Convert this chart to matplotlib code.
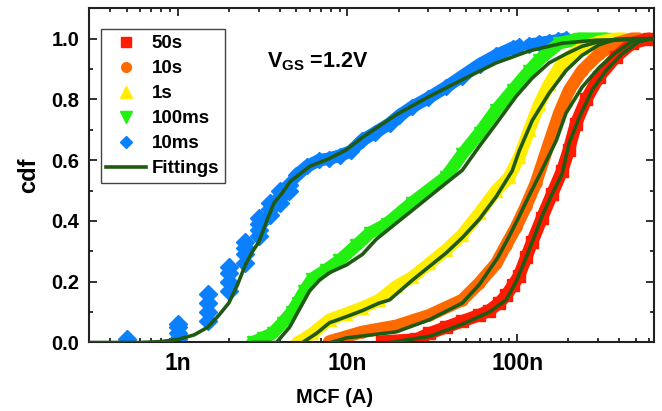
import matplotlib
matplotlib.use("Agg")
import matplotlib.pyplot as plt
from matplotlib.lines import Line2D
from matplotlib.ticker import FixedLocator, LogLocator, MultipleLocator, NullFormatter

plt.rcParams["font.family"] = ["Liberation Sans", "DejaVu Sans"]
plt.rcParams["font.weight"] = "bold"
plt.rcParams["mathtext.fontset"] = "custom"
plt.rcParams["mathtext.rm"] = "Liberation Sans:bold"
plt.rcParams["mathtext.it"] = "Liberation Sans:bold"
plt.rcParams["mathtext.bf"] = "Liberation Sans:bold"

# MCF values in nA, cdf
LABELS = ["50s", "10s", "1s", "100ms", "10ms"]

red_x = [16, 25.5, 30.4, 38, 47.5, 59.7, 68.4, 78.4, 86.1, 95, 102.7, 113, 122.5,
         140, 161, 184, 202, 222, 255, 304, 382, 475, 597]
red_y = [0.003, 0.01, 0.03, 0.05, 0.07, 0.09, 0.105, 0.13, 0.155, 0.19, 0.22, 0.28, 0.33,
         0.41, 0.49, 0.565, 0.635, 0.72, 0.8, 0.875, 0.94, 0.985, 1.0]

orange_x = [7.8, 8.6, 12.25, 19.4, 30.4, 47.5, 59.7, 75.2, 86, 98.6, 113, 129, 154,
            177, 202, 241, 304, 382, 475, 522]
orange_y = [0.003, 0.01, 0.035, 0.055, 0.09, 0.14, 0.195, 0.26, 0.32, 0.38, 0.45, 0.525, 0.655,
            0.755, 0.83, 0.895, 0.95, 0.985, 1.0, 1.0]

yellow_x = [5.08, 5.5, 6.22, 7.84, 9.86, 12.25, 15.4, 19.4, 24.1, 30.4, 38.2, 47.5, 59.7,
            75.2, 89.8, 102.7, 118, 135, 154, 177, 202, 241, 304, 382, 426]
yellow_y = [0.0, 0.01, 0.03, 0.075, 0.095, 0.115, 0.14, 0.185, 0.215, 0.26, 0.305, 0.355, 0.425,
            0.5, 0.545, 0.61, 0.7, 0.785, 0.85, 0.905, 0.94, 0.97, 0.99, 1.0, 1.0]

green_x = [2.76, 3.16, 3.62, 4.15, 4.69, 5.08, 5.58, 6.22, 7.52, 8.97, 11.3, 13.5, 17,
           24, 38, 47.5, 60, 75, 94, 118, 135, 148, 177, 232, 334]
green_y = [0.0, 0.015, 0.03, 0.065, 0.1, 0.13, 0.17, 0.21, 0.24, 0.27, 0.32, 0.36, 0.39,
           0.46, 0.545, 0.62, 0.69, 0.765, 0.83, 0.895, 0.93, 0.95, 0.985, 1.0, 1.0]

# 10ms: quantised low-current stacks, then the continuous part
blue_step_x = [0.5, 1.0, 1.0, 1.0, 1.0, 1.5, 1.5, 1.5, 1.5, 2.0, 2.0, 2.0, 2.0,
               2.5, 2.5, 2.5, 2.5, 3.0, 3.0, 3.0, 3.0, 3.5, 3.5, 3.5, 4.0, 4.0, 4.0, 4.5, 4.5]
blue_step_y = [0.01, 0.01, 0.03, 0.05, 0.06, 0.07, 0.1, 0.13, 0.16, 0.17, 0.2, 0.23, 0.25,
               0.26, 0.29, 0.31, 0.33, 0.35, 0.37, 0.39, 0.41, 0.42, 0.44, 0.46, 0.46, 0.48, 0.5,
               0.5, 0.52]
blue_x = [5.0, 5.8, 6.8, 7.8, 9, 10.5, 12.2, 14.5, 17.7, 20, 24, 30, 38, 47, 60, 75, 94, 102]
blue_y = [0.55, 0.58, 0.6, 0.605, 0.615, 0.63, 0.665, 0.69, 0.72, 0.745, 0.775, 0.805, 0.84,
          0.875, 0.915, 0.945, 0.97, 0.975]
blue_tail_x = [118, 135, 154, 175, 194]
blue_tail_y = [0.98, 0.985, 0.99, 0.995, 1.0]

# fitting curves
fit_red_x = [18, 30.4, 47.5, 68.4, 86.1, 98.6, 113, 122.5, 140, 161, 184, 202, 232, 276,
             334, 415, 522, 622]
fit_red_y = [0.0, 0.02, 0.06, 0.1, 0.14, 0.2, 0.28, 0.33, 0.415, 0.49, 0.555, 0.655, 0.74, 0.83,
             0.895, 0.95, 0.99, 1.0]
fit_orange_x = [8.0, 9.86, 19.4, 30.4, 47.5, 59.7, 77, 89.8, 102.7, 118, 135, 170, 194, 241,
                304, 382, 475, 597]
fit_orange_y = [0.0, 0.015, 0.035, 0.075, 0.13, 0.19, 0.28, 0.35, 0.415, 0.485, 0.55, 0.665, 0.755,
                0.84, 0.905, 0.955, 0.99, 1.0]
fit_yellow_x = [5.44, 6.57, 7.84, 9.86, 12.25, 15.4, 17.7, 24.1, 38.2, 47.5, 59.7, 75.2, 93.5,
                102.7, 122.5, 154, 194, 241, 304, 382, 640]
fit_yellow_y = [0.0, 0.03, 0.065, 0.085, 0.105, 0.13, 0.14, 0.205, 0.295, 0.345, 0.405, 0.48, 0.565,
                0.63, 0.73, 0.82, 0.895, 0.945, 0.98, 0.998, 1.0]
fit_green_x = [2.8, 3.82, 4.56, 5.22, 5.98, 6.84, 7.84, 9.86, 12.25, 14.8, 17.7, 24.1, 38.2,
               47.5, 59.7, 75.2, 98.6, 122.5, 154, 194, 241, 304, 475, 640]
fit_green_y = [0.0, 0.0, 0.05, 0.11, 0.17, 0.205, 0.23, 0.255, 0.29, 0.34, 0.375, 0.435, 0.525,
               0.567, 0.645, 0.72, 0.81, 0.87, 0.92, 0.95, 0.975, 0.99, 1.0, 1.0]
fit_blue_x = [0.3, 0.6, 0.8, 1.0, 1.25, 1.5, 1.75, 2.0, 2.25, 2.5, 2.76, 3.0, 3.4, 3.7, 4.1,
              4.6, 5.4, 6.0, 7.8, 9.9, 12.25, 19.4, 30.4, 47.5, 75, 118, 184, 292, 640]
fit_blue_y = [0.0, 0.0, 0.003, 0.01, 0.025, 0.05, 0.09, 0.13, 0.19, 0.255, 0.3, 0.33, 0.41, 0.46, 0.49,
              0.53, 0.56, 0.58, 0.605, 0.635, 0.675, 0.75, 0.81, 0.865, 0.92, 0.96, 0.985, 0.995, 1.0]

RED, ORANGE, YELLOW, GREEN, BLUE = "#ff1a00", "#ff6a00", "#ffee00", "#22f010", "#0a80ff"
FIT = "#1f5a12"
NA = 1e-9


def band(ax, x, y, color, marker, ms):
    xs = [v * NA for v in x]
    ax.plot(xs, y, color=color, lw=9, solid_joinstyle="round", solid_capstyle="round", zorder=2)
    ax.plot(xs, y, ls="none", marker=marker, ms=ms, color=color, mec=color, zorder=2)


fig = plt.figure(figsize=(6.62, 4.11), dpi=100)
ax = fig.add_axes([0.1344, 0.1667, 0.8535, 0.8131])

# 10ms low-current stacks (markers only)
ax.plot([v * NA for v in blue_step_x], blue_step_y, ls="none", marker="D", ms=9,
        color=BLUE, mec=BLUE, zorder=2)
band(ax, blue_x, blue_y, BLUE, "D", 8)
band(ax, blue_tail_x, blue_tail_y, BLUE, "D", 8)
band(ax, green_x, green_y, GREEN, "v", 9)
band(ax, yellow_x, yellow_y, YELLOW, "^", 9)
band(ax, orange_x, orange_y, ORANGE, "o", 8)
band(ax, red_x, red_y, RED, "s", 8)

for fx, fy in [(fit_blue_x, fit_blue_y), (fit_green_x, fit_green_y),
               (fit_yellow_x, fit_yellow_y), (fit_orange_x, fit_orange_y),
               (fit_red_x, fit_red_y)]:
    ax.plot([v * NA for v in fx], fy, color=FIT, lw=2.6, zorder=3)

ax.set_xscale("log")
ax.set_xlim(3e-10, 6.4e-7)
ax.set_ylim(0, 1.1)

ax.xaxis.set_major_locator(FixedLocator([1e-9, 1e-8, 1e-7]))
ax.set_xticklabels(["1n", "10n", "100n"], fontsize=16.5, fontweight="bold")
ax.xaxis.set_minor_locator(LogLocator(base=10, subs=range(2, 10), numticks=20))
ax.xaxis.set_minor_formatter(NullFormatter())
ax.yaxis.set_major_locator(FixedLocator([0.0, 0.2, 0.4, 0.6, 0.8, 1.0]))
ax.set_yticklabels(["0.0", "0.2", "0.4", "0.6", "0.8", "1.0"], fontsize=14.5, fontweight="bold")
ax.yaxis.set_minor_locator(MultipleLocator(0.1))

ax.tick_params(which="both", direction="in", top=True, right=True, width=1.3, color="#222222")
ax.tick_params(which="major", length=5.5)
ax.tick_params(which="minor", length=3)
ax.tick_params(axis="x", which="major", pad=7)
ax.tick_params(axis="y", which="major", pad=7)
for s in ax.spines.values():
    s.set_linewidth(1.5)
    s.set_color("#222222")

ax.set_xlabel("MCF (A)", fontsize=14.5, fontweight="bold")
ax.xaxis.set_label_coords(0.434, -0.135)
ax.set_ylabel("cdf", fontsize=17, fontweight="bold")
ax.yaxis.set_label_coords(-0.087, 0.5)

ax.text(0.315, 0.824, r"$\mathrm{V_{GS}}$ =1.2V", transform=ax.transAxes, fontsize=15.5,
        fontweight="bold", va="baseline", ha="left")

handles = [
    Line2D([], [], ls="none", marker="s", ms=6.5, color=RED),
    Line2D([], [], ls="none", marker="o", ms=7, color=ORANGE),
    Line2D([], [], ls="none", marker="^", ms=8.5, color=YELLOW),
    Line2D([], [], ls="none", marker="v", ms=8.5, color=GREEN),
    Line2D([], [], ls="none", marker="D", ms=6.5, color=BLUE),
    Line2D([], [], color=FIT, lw=2.6),
]
leg = ax.legend(handles, LABELS + ["Fittings"], loc="upper left", bbox_to_anchor=(0.021, 0.937),
                borderaxespad=0, prop={"weight": "bold", "size": 13.5},
                frameon=True, fancybox=False, framealpha=1, edgecolor="#444444",
                borderpad=0.3, labelspacing=0.42, handlelength=2.1, handletextpad=0.3)
leg.get_frame().set_linewidth(1.0)

fig.savefig("out.png", dpi=100)
